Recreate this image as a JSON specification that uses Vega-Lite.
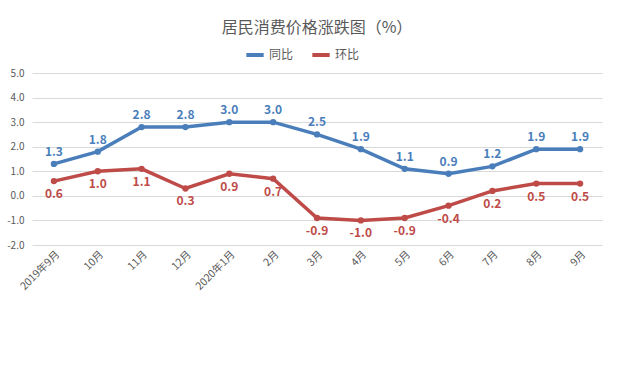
{
  "$schema": "https://vega.github.io/schema/vega-lite/v6.json",
  "width": 570,
  "height": 172,
  "autosize": "none",
  "padding": {"left": 32, "top": 73, "right": 38, "bottom": 145},
  "background": "white",
  "title": {"text": "居民消费价格涨跌图（%）", "font": "Noto Sans CJK SC", "fontSize": 16, "fontWeight": "normal", "color": "#595959", "offset": 8, "anchor": "middle"},
  "config": {"view": {"stroke": null}, "font": "Noto Sans CJK SC"},
  "data": {"values": [
    {"month": "2019年9月", "series": "同比", "value": 1.3},
    {"month": "10月", "series": "同比", "value": 1.8},
    {"month": "11月", "series": "同比", "value": 2.8},
    {"month": "12月", "series": "同比", "value": 2.8},
    {"month": "2020年1月", "series": "同比", "value": 3.0},
    {"month": "2月", "series": "同比", "value": 3.0},
    {"month": "3月", "series": "同比", "value": 2.5},
    {"month": "4月", "series": "同比", "value": 1.9},
    {"month": "5月", "series": "同比", "value": 1.1},
    {"month": "6月", "series": "同比", "value": 0.9},
    {"month": "7月", "series": "同比", "value": 1.2},
    {"month": "8月", "series": "同比", "value": 1.9},
    {"month": "9月", "series": "同比", "value": 1.9},
    {"month": "2019年9月", "series": "环比", "value": 0.6},
    {"month": "10月", "series": "环比", "value": 1.0},
    {"month": "11月", "series": "环比", "value": 1.1},
    {"month": "12月", "series": "环比", "value": 0.3},
    {"month": "2020年1月", "series": "环比", "value": 0.9},
    {"month": "2月", "series": "环比", "value": 0.7},
    {"month": "3月", "series": "环比", "value": -0.9},
    {"month": "4月", "series": "环比", "value": -1.0},
    {"month": "5月", "series": "环比", "value": -0.9},
    {"month": "6月", "series": "环比", "value": -0.4},
    {"month": "7月", "series": "环比", "value": 0.2},
    {"month": "8月", "series": "环比", "value": 0.5},
    {"month": "9月", "series": "环比", "value": 0.5}
  ]},
  "encoding": {
    "x": {"field": "month", "type": "ordinal", "sort": null,
      "scale": {"paddingInner": 0, "paddingOuter": 0.5},
      "axis": {"title": null, "labelAngle": -45, "labelFontSize": 10.5, "labelColor": "#595959", "domain": false, "ticks": false, "grid": false, "labelPadding": 4}},
    "y": {"field": "value", "type": "quantitative",
      "scale": {"domain": [-2, 5], "nice": false},
      "axis": {"title": null, "values": [-2, -1, 0, 1, 2, 3, 4, 5], "labelExpr": "replace(format(datum.value, '.1f'), '−', '-')", "labelFontSize": 10, "labelColor": "#595959", "domain": false, "ticks": false, "gridColor": "#d9d9d9", "labelPadding": 8}},
    "color": {"field": "series", "type": "nominal",
      "scale": {"domain": ["同比", "环比"], "range": ["#4a7ebb", "#be4b48"]},
      "legend": {"title": null, "orient": "none", "legendX": 212, "legendY": -29, "direction": "horizontal", "labelFontSize": 12, "labelColor": "#595959", "symbolType": "stroke", "symbolStrokeWidth": 4, "symbolSize": 300, "columnPadding": 10, "labelOffset": 3}}
  },
  "layer": [
    {"mark": {"type": "line", "strokeWidth": 3.5, "point": {"filled": true, "size": 40}}},
    {"transform": [{"filter": "datum.series == '同比'"}],
      "mark": {"type": "text", "dy": -12, "fontSize": 12, "fontWeight": "bold", "text": {"expr": "replace(format(datum.value, '.1f'), '−', '-')"}}},
    {"transform": [{"filter": "datum.series == '环比'"}],
      "mark": {"type": "text", "dy": 13, "fontSize": 12, "fontWeight": "bold", "text": {"expr": "replace(format(datum.value, '.1f'), '−', '-')"}}}
  ]
}
